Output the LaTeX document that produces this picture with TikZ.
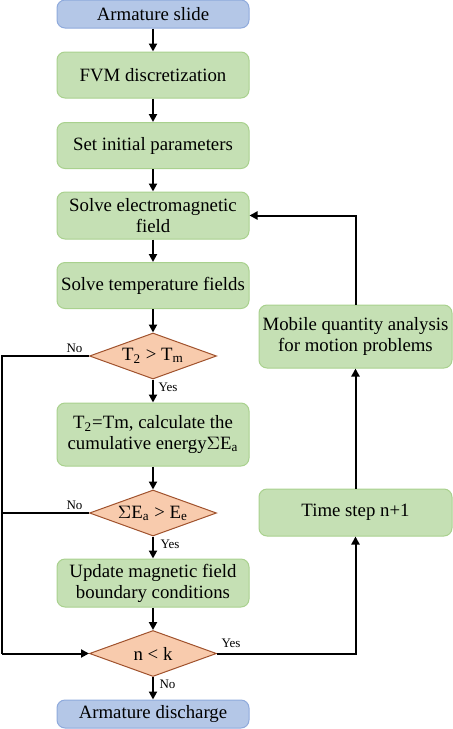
\documentclass[tikz,border=0pt]{standalone}
\usepackage{fontspec}
\setmainfont{Liberation Serif}
\usetikzlibrary{shapes.geometric,arrows.meta}

\definecolor{termfill}{HTML}{B4C7E7}
\definecolor{termline}{HTML}{8FAADC}
\definecolor{procfill}{HTML}{C5E0B4}
\definecolor{procline}{HTML}{A9D18E}
\definecolor{decfill}{HTML}{F8CBAD}
\definecolor{decline}{HTML}{A0522D}

\tikzset{
  terminal/.style={draw=termline,fill=termfill,rounded corners=4pt,line width=0.5pt,
    minimum width=96pt,minimum height=14pt,inner sep=1pt,align=center,
    font=\fontsize{9.4}{10.5}\selectfont},
  process/.style={draw=procline,fill=procfill,rounded corners=4pt,line width=0.5pt,
    minimum width=96pt,minimum height=23pt,inner sep=1pt,align=center,
    font=\fontsize{9.4}{10.5}\selectfont},
  decision/.style={diamond,draw=decline,fill=decfill,line width=0.5pt,aspect=2.7,
    minimum width=63.5pt,minimum height=23pt,inner sep=0pt,
    font=\fontsize{9.4}{10.5}\selectfont},
  flow/.style={line width=1pt,-{Triangle[length=4pt,width=4pt]}},
  link/.style={line width=1pt},
  tag/.style={font=\fontsize{6.5}{7}\selectfont,inner sep=0pt}
}

\begin{document}
\begin{tikzpicture}[x=0.5pt,y=-0.5pt]
  \useasboundingbox (0,0) rectangle (452,729);

  % main column
  \node [terminal] (slide) at (153,14) {Armature slide};
  \node [process] (fvm) at (153,75) {FVM discretization};
  \node [process] (init) at (153,145.5) {Set initial parameters};
  \node [process,minimum height=23.5pt] (emf) at (153,215.5) {Solve electromagnetic\\field};
  \node [process] (temp) at (153,285.5) {Solve temperature fields};
  \node [decision] (melt) at (153,356) {T\textsubscript{2} > T\textsubscript{m}};
  \node [process,minimum height=31.5pt] (energy) at (153,434.5)
    {T\textsubscript{2}=Tm, calculate the\\cumulative energy$\Sigma$E\textsubscript{a}};
  \node [decision] (limit) at (153,513) {$\Sigma$E\textsubscript{a} > E\textsubscript{e}};
  \node [process,minimum height=24pt] (bound) at (153,583) {Update magnetic field\\boundary conditions};
  \node [decision] (steps) at (153,653.5) {n < k};
  \node [terminal] (out) at (153,714) {Armature discharge};

  % right column
  \node [process,minimum width=96.5pt,minimum height=31.5pt] (mobile) at (355.5,336.5)
    {Mobile quantity analysis\\for motion problems};
  \node [process,minimum width=96.5pt,minimum height=23.5pt] (tstep) at (355.5,512.5) {Time step n+1};

  \coordinate (ltop) at (2,356);
  \coordinate (lmid) at (2,513);
  \coordinate (lbot) at (2,653.5);

  \draw [flow] (slide) -- (fvm);
  \draw [flow] (fvm) -- (init);
  \draw [flow] (init) -- (emf);
  \draw [flow] (emf) -- (temp);
  \draw [flow] (temp) -- (melt);
  \draw [flow] (melt) -- (energy);
  \draw [flow] (energy) -- (limit);
  \draw [flow] (limit) -- (bound);
  \draw [flow] (bound) -- (steps);
  \draw [flow] (steps) -- (out);

  \draw [link] (melt.west) -- (ltop) -- (lbot);
  \draw [flow] (lbot) -- (steps.west);
  \draw [link] (limit.west) -- (lmid);

  \draw [flow] (steps.east) -| (tstep.south);
  \draw [flow] (tstep) -- (mobile);
  \draw [flow] (mobile.north) |- (emf.east);

  \node [tag] at (74.5,348) {No};
  \node [tag] at (168,387) {Yes};
  \node [tag] at (74.5,505) {No};
  \node [tag] at (170,544) {Yes};
  \node [tag] at (231,643) {Yes};
  \node [tag] at (167.5,684) {No};
\end{tikzpicture}
\end{document}
